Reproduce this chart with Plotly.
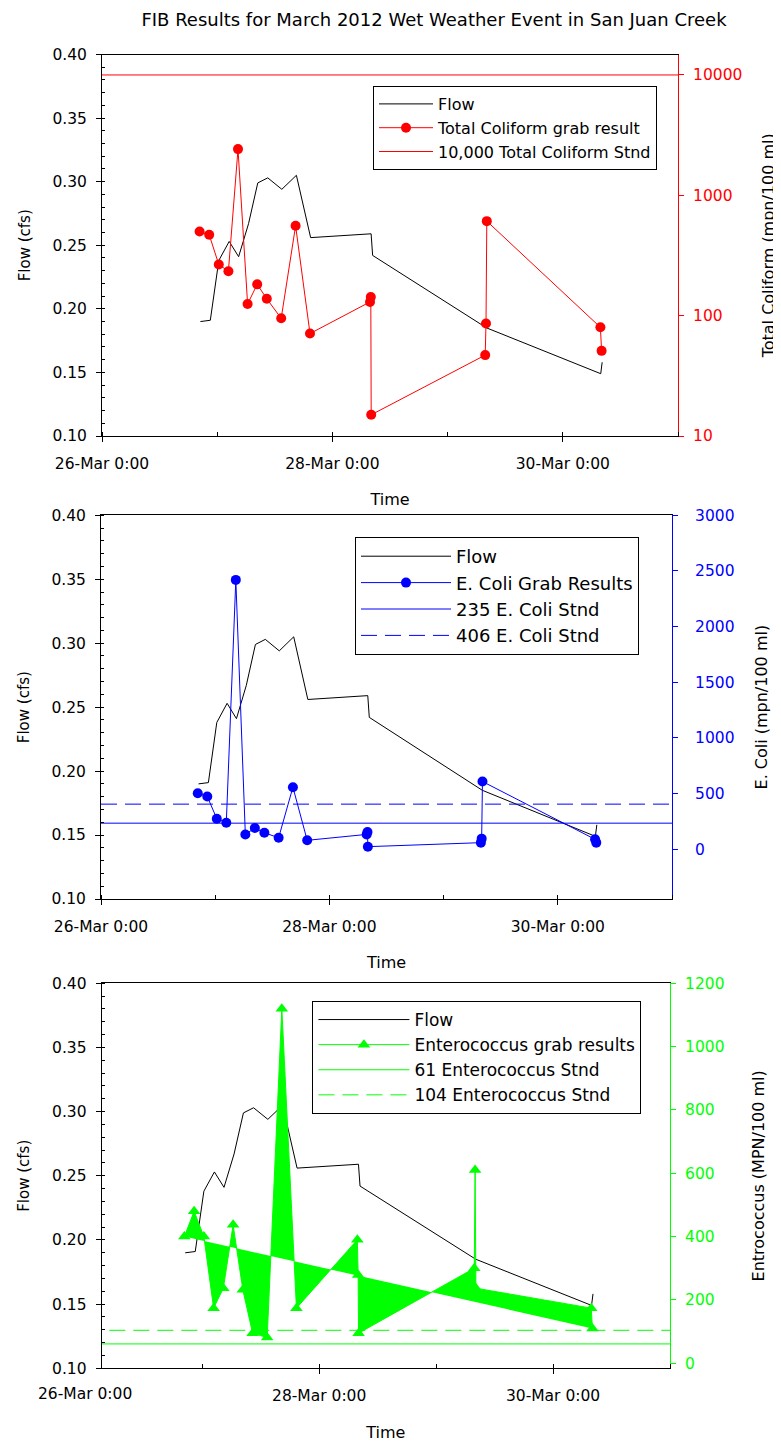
import plotly.graph_objects as go
from datetime import datetime

W, H = 781, 1446
PAGE_OFFSET = 8          # default body margin of the page holding the figure
FONT = "DejaVu Sans"
RED, BLUE, GREEN = "#ff0000", "#0000ff", "#00ff00"

# ---------------- data ----------------
flow_time = ["2012-03-26 20:30", "2012-03-26 22:34", "2012-03-27 00:20", "2012-03-27 02:30",
             "2012-03-27 04:28", "2012-03-27 06:32", "2012-03-27 08:27", "2012-03-27 10:32",
             "2012-03-27 13:28", "2012-03-27 16:30", "2012-03-27 19:28", "2012-03-28 08:04",
             "2012-03-28 08:23", "2012-03-29 08:08", "2012-03-30 07:54", "2012-03-30 08:12"]
flow_cfs = [0.190, 0.191, 0.238, 0.253, 0.241, 0.267, 0.299, 0.303,
            0.294, 0.305, 0.256, 0.259, 0.242, 0.185, 0.149, 0.158]

grab_time = ["2012-03-26 20:20", "2012-03-26 22:20", "2012-03-27 00:20", "2012-03-27 02:20",
             "2012-03-27 04:20", "2012-03-27 06:20", "2012-03-27 08:20", "2012-03-27 10:20",
             "2012-03-27 13:20", "2012-03-27 16:20", "2012-03-27 19:20", "2012-03-28 07:50",
             "2012-03-28 08:00", "2012-03-28 08:05", "2012-03-29 07:50", "2012-03-29 08:00",
             "2012-03-29 08:10", "2012-03-30 07:50", "2012-03-30 08:05"]
total_coliform = [500, 470, 266, 234, 2420, 125, 182, 138, 95, 558, 71,
                  130, 143, 15, 47, 86, 610, 80, 51]
e_coli = [504, 475, 275, 239, 2420, 134, 191, 149, 104, 558, 81,
          134, 155, 24, 60, 96, 609, 90, 60]
enterococcus = [400, 480, 400, 174, 237, 437, 232, 95, 81, 1120, 174,
                390, 279, 95, 300, 610, 237, 174, 110]

tc_standard = 10000
ec_standard_235 = 235
ec_standard_406 = 406
ent_standard_61 = 61
ent_standard_104 = 104

tc_ticks = [10, 100, 1000, 10000]
x_range = ["2012-03-26 00:00", "2012-03-31 00:00"]
x_range_bottom = ["2012-03-26 03:22", "2012-03-31 00:00"]
first_day_label = "26-Mar 0:00"

# ---------------- geometry (page pixels) ----------------
def fx(px):
    return (px - PAGE_OFFSET) / W

def fy(py):
    return 1 - (py - PAGE_OFFSET) / H

top = dict(x=(102, 678), y=(436, 54.5))
mid = dict(x=(101, 672), y=(899, 515.3))
bot = dict(x=(101.7, 670), y=(1368.3, 983.3))

fig = go.Figure()

# ---- top panel ----
fig.add_trace(go.Scatter(x=flow_time, y=flow_cfs, mode="lines", name="Flow",
                         line=dict(color="black", width=1), xaxis="x", yaxis="y", legend="legend"))
fig.add_trace(go.Scatter(x=grab_time, y=total_coliform, mode="lines+markers",
                         name="Total Coliform grab result",
                         line=dict(color=RED, width=1), marker=dict(size=10, color=RED),
                         xaxis="x", yaxis="y2", legend="legend"))
fig.add_trace(go.Scatter(x=x_range, y=[tc_standard, tc_standard], mode="lines",
                         name="10,000 Total Coliform Stnd", line=dict(color=RED, width=1),
                         xaxis="x", yaxis="y2", legend="legend"))

# ---- middle panel ----
fig.add_trace(go.Scatter(x=flow_time, y=flow_cfs, mode="lines", name="Flow",
                         line=dict(color="black", width=1), xaxis="x2", yaxis="y3", legend="legend2"))
fig.add_trace(go.Scatter(x=grab_time, y=e_coli, mode="lines+markers", name="E. Coli Grab Results",
                         line=dict(color=BLUE, width=1), marker=dict(size=10, color=BLUE),
                         xaxis="x2", yaxis="y4", legend="legend2"))
fig.add_trace(go.Scatter(x=x_range, y=[ec_standard_235] * 2, mode="lines", name="235 E. Coli Stnd",
                         line=dict(color=BLUE, width=1), xaxis="x2", yaxis="y4", legend="legend2"))
fig.add_trace(go.Scatter(x=x_range, y=[ec_standard_406] * 2, mode="lines", name="406 E. Coli Stnd",
                         line=dict(color=BLUE, width=1, dash="16px,8px"),
                         xaxis="x2", yaxis="y4", legend="legend2"))

# ---- bottom panel ----
fig.add_trace(go.Scatter(x=flow_time, y=flow_cfs, mode="lines", name="Flow",
                         line=dict(color="black", width=1), xaxis="x3", yaxis="y5", legend="legend3"))
fig.add_trace(go.Scatter(x=grab_time, y=enterococcus, mode="none", fill="toself",
                         fillcolor=GREEN, showlegend=False, hoverinfo="skip",
                         xaxis="x3", yaxis="y6"))
fig.add_trace(go.Scatter(x=grab_time, y=enterococcus, mode="lines+markers",
                         name="Enterococcus grab results",
                         line=dict(color=GREEN, width=1),
                         marker=dict(size=11, color=GREEN, symbol="triangle-up"),
                         xaxis="x3", yaxis="y6", legend="legend3"))
fig.add_trace(go.Scatter(x=x_range, y=[ent_standard_61] * 2, mode="lines", name="61 Enterococcus Stnd",
                         line=dict(color=GREEN, width=1), xaxis="x3", yaxis="y6", legend="legend3"))
fig.add_trace(go.Scatter(x=x_range, y=[ent_standard_104] * 2, mode="lines",
                         name="104 Enterococcus Stnd",
                         line=dict(color=GREEN, width=1, dash="16px,8px"),
                         xaxis="x3", yaxis="y6", legend="legend3"))

# ---------------- axes ----------------
TICK = 15.5
DAY = 86400000


def xaxis(panel, rng, anchor):
    return dict(domain=[fx(panel["x"][0]), fx(panel["x"][1])], anchor=anchor, type="date",
                range=rng, showline=True, linecolor="black", linewidth=1, mirror=True,
                ticks="outside", ticklen=5, tickcolor="black", tickformat="%-d-%b %-H:%M",
                tick0="2012-03-26", dtick=2 * DAY, showgrid=False, zeroline=False,
                tickfont=dict(size=TICK, color="black"), ticklabelstandoff=8,
                automargin=False,
                minor=dict(dtick=DAY, tick0="2012-03-26", ticks="inside", ticklen=4,
                           tickcolor="black", showgrid=False),
                title=dict(text="Time", font=dict(size=16, color="black"), standoff=22))


def flow_axis(panel, anchor):
    return dict(domain=[fy(panel["y"][0]), fy(panel["y"][1])], anchor=anchor,
                range=[0.10, 0.40], tick0=0.10, dtick=0.05, tickformat=".2f",
                showline=True, linecolor="black", linewidth=1, ticks="outside", ticklen=5,
                tickcolor="black", showgrid=False, zeroline=False, automargin=False,
                tickfont=dict(size=TICK, color="black"), ticklabelstandoff=6,
                minor=dict(dtick=0.01, ticks="inside", ticklen=3, tickcolor="black", showgrid=False),
                title=dict(text="Flow (cfs)", font=dict(size=15, color="black"), standoff=18))


def right_axis(over, anchor, color, title, standoff, label_gap=6, **kw):
    d = dict(overlaying=over, side="right", anchor=anchor, showline=True, linecolor=color,
             linewidth=1, ticks="outside", ticklen=5, tickcolor=color, showgrid=False,
             zeroline=False, tickfont=dict(size=TICK, color=color), ticklabelstandoff=label_gap,
             automargin=False,
             title=dict(text=title, font=dict(size=16, color="black"), standoff=standoff))
    d.update(kw)
    return d


def legend_box(x, y, size, itemwidth):
    return dict(x=fx(x), y=fy(y), xanchor="left", yanchor="top", bordercolor="black",
                borderwidth=1, bgcolor="white", font=dict(size=size, color="black"),
                itemwidth=itemwidth)


fig.update_layout(
    width=W, height=H, margin=dict(l=0, r=0, t=0, b=0, autoexpand=False),
    paper_bgcolor="white", plot_bgcolor="white",
    font=dict(family=FONT, color="black"),
    title=dict(text="FIB Results for March 2012 Wet Weather Event in San Juan Creek",
               x=fx(434), xanchor="center", y=fy(20), yanchor="middle",
               font=dict(size=18, color="black")),
    xaxis=xaxis(top, x_range, "y"),
    yaxis=flow_axis(top, "x"),
    yaxis2=right_axis("y", "x", RED, "Total Coliform (mpn/100 ml)", 21, type="log",
                      range=[1, 4.170], tickvals=tc_ticks, ticktext=[str(v) for v in tc_ticks]),
    xaxis2=xaxis(mid, x_range, "y3"),
    yaxis3=flow_axis(mid, "x2"),
    yaxis4=right_axis("y3", "x2", BLUE, "E. Coli (mpn/100 ml)", 22, label_gap=14,
                      range=[-446, 3000], tick0=0, dtick=500),
    xaxis3=xaxis(bot, x_range_bottom, "y5"),
    yaxis5=flow_axis(bot, "x3"),
    yaxis6=right_axis("y5", "x3", GREEN, "Entrococcus (MPN/100 ml)", 29,
                      range=[-16, 1200], tick0=0, dtick=200),
    legend=legend_box(373, 86, 16, 54),
    legend2=legend_box(355, 537, 18, 90),
    legend3=legend_box(312.4, 1001, 17, 91),
)

# first tick label of the bottom panel sits left of its axis (as in the source chart)
t0 = datetime.fromisoformat(x_range[0]).timestamp()
r0 = datetime.fromisoformat(x_range_bottom[0]).timestamp()
r1 = datetime.fromisoformat(x_range_bottom[1]).timestamp()
lab_x = bot["x"][0] + (t0 - r0) / (r1 - r0) * (bot["x"][1] - bot["x"][0])
fig.add_annotation(text=first_day_label, xref="paper", yref="paper", x=fx(lab_x), y=fy(1394),
                   xanchor="center", yanchor="middle", showarrow=False,
                   font=dict(size=TICK, color="black"))

fig.write_html("out.html")
